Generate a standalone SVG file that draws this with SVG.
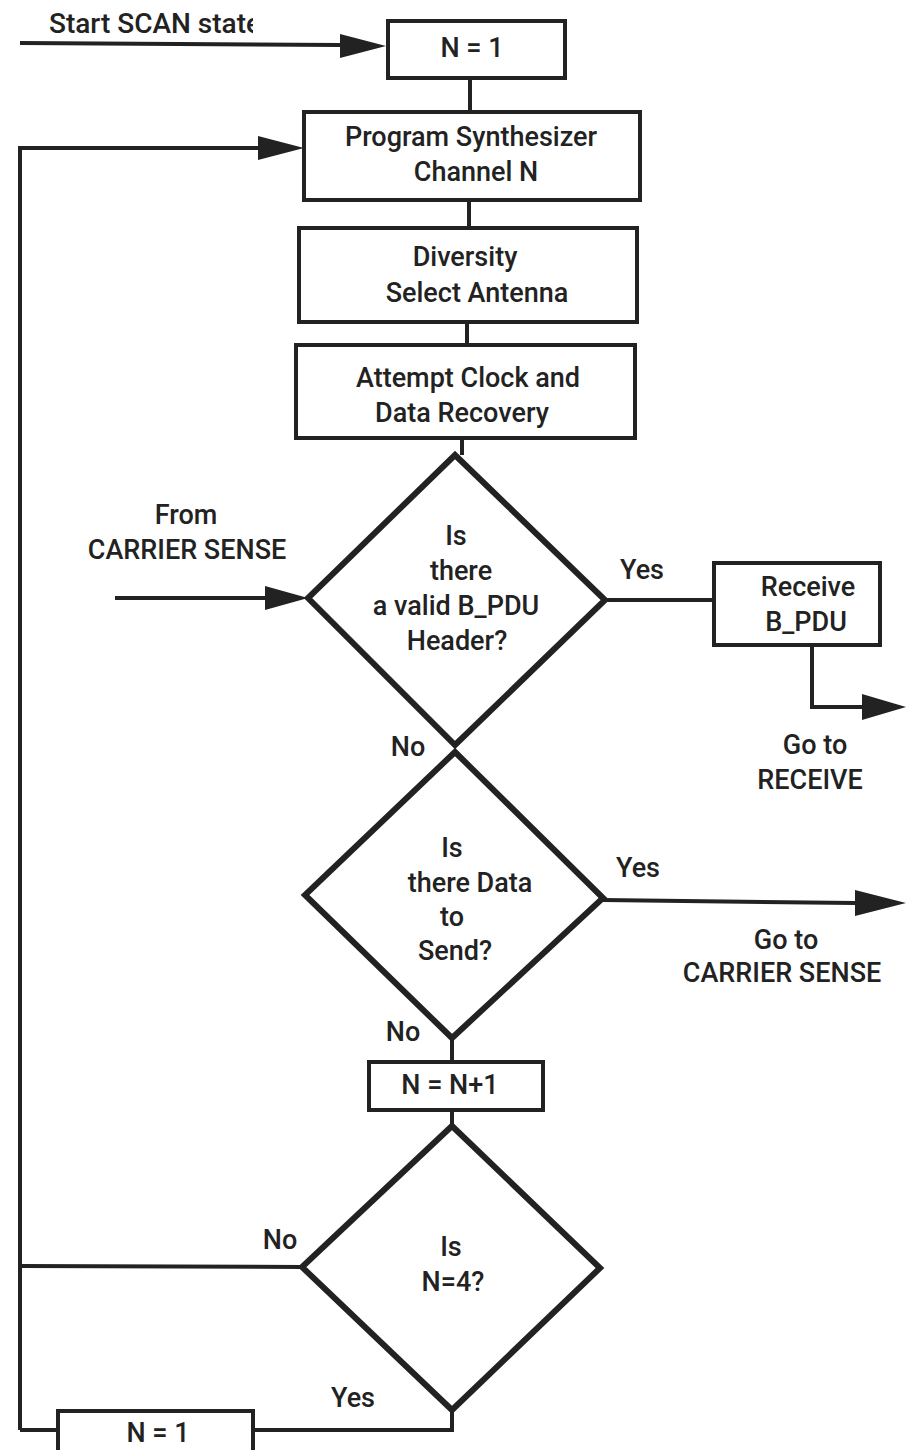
<svg xmlns="http://www.w3.org/2000/svg" width="906" height="1450" viewBox="0 0 906 1450">
<style>
.box{fill:#fff;stroke:#222;stroke-width:4}
.dia{fill:#fff;stroke:#222;stroke-width:6;stroke-linejoin:miter}
.ln{fill:none;stroke:#222;stroke-width:4}
.ah{fill:#222}
text{font-family:Roboto,"Liberation Sans",Arial,sans-serif;font-weight:500;font-size:27px;fill:#222;text-anchor:middle}
</style>
<defs>
<clipPath id="clipStart"><rect x="0" y="0" width="253" height="60"/></clipPath>
</defs>
<rect width="906" height="1450" fill="#fff"/>
<g id="connectors">
<path class="ln" d="M20,43 L340,45"/><path class="ah" d="M340,34 L386,46 L340,58 Z"/>
<path class="ln" d="M470,78 L470,112"/>
<path class="ln" d="M20,1430 L20,148 L258,148"/><path class="ah" d="M258,136 L304,148 L258,160 Z"/>
<path class="ln" d="M469,200 L469,228"/>
<path class="ln" d="M467,322 L467,345"/>
<path class="ln" d="M462,438 L462,455"/>
<path class="ln" d="M115,598 L265,598"/><path class="ah" d="M265,586 L308,598 L265,610 Z"/>
<path class="ln" d="M605,600 L715,600"/>
<path class="ln" d="M812,645 L812,707 L862,707"/><path class="ah" d="M862,694 L906,707 L862,720 Z"/>
<path class="ln" d="M603,900 L855,903"/><path class="ah" d="M855,890 L906,903 L855,916 Z"/>
<path class="ln" d="M452,1040 L452,1062"/>
<path class="ln" d="M452,1110 L452,1125"/>
<path class="ln" d="M302,1267 L20,1266"/>
<path class="ln" d="M452,1410 L452,1430 L253,1430"/>
<path class="ln" d="M58,1430 L20,1430"/>
</g>
<g id="start-label"><text x="49" y="33" style="text-anchor:start;font-size:28px" clip-path="url(#clipStart)">Start SCAN state</text></g>
<g id="n1-top"><rect class="box" x="388" y="21" width="177" height="57"/><text x="472" y="57">N = 1</text></g>
<g id="program"><rect class="box" x="304" y="112" width="336" height="88"/><text x="471" y="146">Program Synthesizer</text><text x="476" y="181">Channel N</text></g>
<g id="diversity"><rect class="box" x="299" y="228" width="338" height="94"/><text x="465" y="266">Diversity</text><text x="477" y="302">Select Antenna</text></g>
<g id="attempt"><rect class="box" x="296" y="345" width="339" height="93"/><text x="468" y="387">Attempt Clock and</text><text x="462" y="422">Data Recovery</text></g>
<g id="from-cs"><text x="186" y="524">From</text><text x="187" y="559">CARRIER SENSE</text></g>
<g id="valid-header"><path class="dia" d="M455,455 L605,600 L455,745 L308,598 Z"/><text x="456" y="545">Is</text><text x="461" y="580">there</text><text x="456" y="615">a valid B_PDU</text><text x="457" y="650">Header?</text></g>
<g id="yes1"><text x="642" y="579">Yes</text></g>
<g id="receive"><rect class="box" x="714" y="563" width="166" height="82"/><text x="808" y="596">Receive</text><text x="806" y="631">B_PDU</text></g>
<g id="goto-receive"><text x="815" y="754">Go to</text><text x="810" y="789">RECEIVE</text></g>
<g id="no1"><text x="408" y="756">No</text></g>
<g id="data-send"><path class="dia" d="M455,752 L603,898 L452,1038 L305,895 Z"/><text x="452" y="857">Is</text><text x="470" y="892">there Data</text><text x="452" y="926">to</text><text x="455" y="960">Send?</text></g>
<g id="yes2"><text x="638" y="877">Yes</text></g>
<g id="goto-cs"><text x="786" y="949">Go to</text><text x="782" y="982">CARRIER SENSE</text></g>
<g id="no2"><text x="403" y="1041">No</text></g>
<g id="n-inc"><rect class="box" x="369" y="1062" width="174" height="48"/><text x="450" y="1094">N = N+1</text></g>
<g id="n4"><path class="dia" d="M452,1126 L600,1268 L452,1410 L302,1267 Z"/><text x="451" y="1256">Is</text><text x="453" y="1291">N=4?</text></g>
<g id="no3"><text x="280" y="1249">No</text></g>
<g id="yes3"><text x="353" y="1407">Yes</text></g>
<g id="n1-bottom"><rect class="box" x="58" y="1411" width="195" height="45"/><text x="158" y="1442">N = 1</text></g>
</svg>
